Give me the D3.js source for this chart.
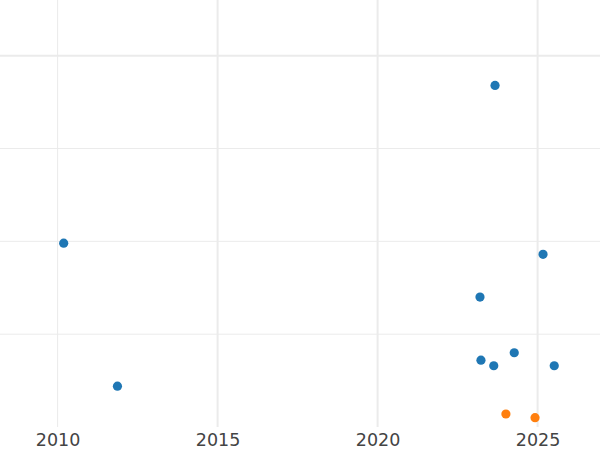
<!DOCTYPE html>
<html><head><meta charset="utf-8">
<script src="https://cdn.jsdelivr.net/npm/d3@7"></script>
<style>html,body{margin:0;padding:0;background:#fff;}</style>
</head><body>
<svg id="c" width="600" height="450"></svg>
<script>
const xTicks = [2010, 2015, 2020, 2025];
const yTicks = [1, 2, 3, 4];
const seriesA_x = [2023.67, 2010.19, 2025.17, 2023.20, 2023.23, 2023.63, 2024.27, 2025.52, 2011.87];
const seriesA_y = [3.68, 1.98, 1.86, 1.40, 0.72, 0.66, 0.80, 0.66, 0.44];
const seriesB_x = [2024.01, 2024.92];
const seriesB_y = [0.14, 0.10];

const svg = d3.select("#c");
const x = d3.scaleLinear().domain([2008.2, 2026.95]).range([0, 600]);
const y = d3.scaleLinear().domain([0, 4.6]).range([427, 0]);

// horizontal grid
svg.append("g").selectAll("line").data(yTicks).join("line")
  .attr("x1", 0).attr("x2", 600)
  .attr("y1", d => y(d)).attr("y2", d => y(d))
  .attr("stroke", "#ebebeb")
  .attr("stroke-width", d => d === 4 ? 2 : 1);

// vertical grid
svg.append("g").selectAll("line").data(xTicks).join("line")
  .attr("x1", d => x(d)).attr("x2", d => x(d))
  .attr("y1", 0).attr("y2", 427)
  .attr("stroke", "#ebebeb")
  .attr("stroke-width", d => d === 2010 ? 1 : 2);

// x axis labels
const xAxis = d3.axisBottom(x).tickValues(xTicks).tickFormat(d3.format("d")).tickSize(0).tickPadding(7);
const gx = svg.append("g").attr("transform", "translate(0,427)").call(xAxis);
gx.select(".domain").remove();
gx.selectAll("text").attr("font-family", "DejaVu Sans").attr("font-size", 17.5).attr("fill", "#444");

const ptsA = seriesA_x.map((v, i) => ({x: v, y: seriesA_y[i]}));
const ptsB = seriesB_x.map((v, i) => ({x: v, y: seriesB_y[i]}));

svg.append("g").selectAll("circle").data(ptsA).join("circle")
  .attr("cx", d => x(d.x)).attr("cy", d => y(d.y)).attr("r", 4.6).attr("fill", "#1f77b4");
svg.append("g").selectAll("circle").data(ptsB).join("circle")
  .attr("cx", d => x(d.x)).attr("cy", d => y(d.y)).attr("r", 4.6).attr("fill", "#ff7f0e");
</script>
</body></html>
